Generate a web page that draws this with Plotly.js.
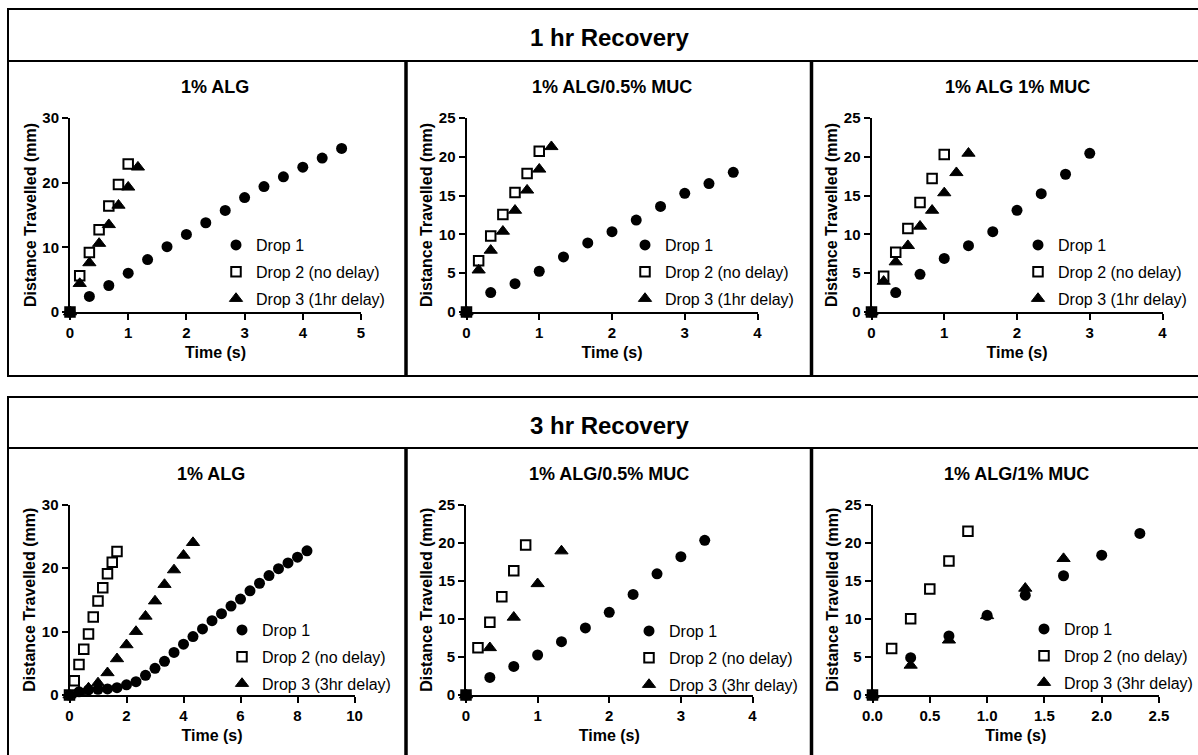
<!DOCTYPE html>
<html>
<head>
<meta charset="utf-8">
<script src="https://cdn.plot.ly/plotly-3.0.1.min.js"></script>
<style>html,body{margin:0;padding:0;background:#fff;}#chart{width:1198px;height:755px;}</style>
</head>
<body>
<div id="chart"></div>
<script>
// ---------- DATA ----------
const blockTitles = ["1 hr Recovery", "3 hr Recovery"];
const panelTitles = ["1% ALG", "1% ALG/0.5% MUC", "1% ALG 1% MUC", "1% ALG", "1% ALG/0.5% MUC", "1% ALG/1% MUC"];
const seriesNames1h = ["Drop 1", "Drop 2 (no delay)", "Drop 3 (1hr delay)"];
const seriesNames3h = ["Drop 1", "Drop 2 (no delay)", "Drop 3 (3hr delay)"];
const xTitle = "Time (s)";
const yTitle = "Distance Travelled (mm)";

// 1 hr recovery, 1% ALG
const h1Alg_d1_t = [0, 0.333, 0.667, 1, 1.333, 1.667, 2, 2.333, 2.667, 3, 3.333, 3.667, 4, 4.333, 4.667];
const h1Alg_d1_y = [0, 2.4, 4.1, 6.0, 8.1, 10.1, 12.0, 13.8, 15.7, 17.7, 19.4, 20.9, 22.4, 23.8, 25.3];
const h1Alg_d2_t = [0, 0.167, 0.333, 0.5, 0.667, 0.833, 1];
const h1Alg_d2_y = [0, 5.6, 9.2, 12.7, 16.4, 19.7, 22.9];
const h1Alg_d3_t = [0, 0.167, 0.333, 0.5, 0.667, 0.833, 1, 1.167];
const h1Alg_d3_y = [0, 4.4, 7.6, 10.6, 13.5, 16.5, 19.3, 22.4];

// 1 hr recovery, 1% ALG/0.5% MUC
const h1M05_d1_t = [0, 0.333, 0.667, 1, 1.333, 1.667, 2, 2.333, 2.667, 3, 3.333, 3.667];
const h1M05_d1_y = [0, 2.5, 3.65, 5.25, 7.1, 8.9, 10.35, 11.85, 13.6, 15.3, 16.55, 18.0];
const h1M05_d2_t = [0, 0.167, 0.333, 0.5, 0.667, 0.833, 1];
const h1M05_d2_y = [0, 6.6, 9.8, 12.55, 15.4, 17.85, 20.7];
const h1M05_d3_t = [0, 0.167, 0.333, 0.5, 0.667, 0.833, 1, 1.167];
const h1M05_d3_y = [0, 5.4, 7.95, 10.4, 13.1, 15.7, 18.4, 21.3];

// 1 hr recovery, 1% ALG 1% MUC
const h1M1_d1_t = [0, 0.333, 0.667, 1, 1.333, 1.667, 2, 2.333, 2.667, 3];
const h1M1_d1_y = [0, 2.5, 4.85, 6.9, 8.55, 10.35, 13.1, 15.25, 17.75, 20.45];
const h1M1_d2_t = [0, 0.167, 0.333, 0.5, 0.667, 0.833, 1];
const h1M1_d2_y = [0, 4.6, 7.7, 10.75, 14.1, 17.2, 20.3];
const h1M1_d3_t = [0, 0.167, 0.333, 0.5, 0.667, 0.833, 1, 1.167, 1.333];
const h1M1_d3_y = [0, 3.95, 6.45, 8.55, 11.05, 13.1, 15.35, 17.95, 20.45];

// 3 hr recovery, 1% ALG
const h3Alg_d1_t = [0, 0.333, 0.667, 1, 1.333, 1.667, 2, 2.333, 2.667, 3, 3.333, 3.667, 4, 4.333, 4.667, 5, 5.333, 5.667, 6, 6.333, 6.667, 7, 7.333, 7.667, 8, 8.333];
const h3Alg_d1_y = [0, 0.5, 0.8, 0.9, 0.95, 1.15, 1.6, 2.1, 3.1, 4.2, 5.3, 6.7, 8.0, 9.2, 10.4, 11.7, 12.8, 14.0, 15.1, 16.4, 17.6, 18.8, 19.9, 20.8, 21.7, 22.7];
const h3Alg_d2_t = [0, 0.167, 0.333, 0.5, 0.667, 0.833, 1, 1.167, 1.333, 1.5, 1.667];
const h3Alg_d2_y = [0, 2.25, 4.8, 7.2, 9.6, 12.3, 14.8, 16.9, 19.1, 20.9, 22.6];
const h3Alg_d3_t = [0, 0.333, 0.667, 1, 1.333, 1.667, 2, 2.333, 2.667, 3, 3.333, 3.667, 4, 4.333];
const h3Alg_d3_y = [0, 0.5, 1.1, 1.9, 3.5, 5.7, 7.9, 10.0, 12.4, 14.8, 17.4, 19.7, 22.0, 24.0];

// 3 hr recovery, 1% ALG/0.5% MUC
const h3M05_d1_t = [0, 0.333, 0.667, 1, 1.333, 1.667, 2, 2.333, 2.667, 3, 3.333];
const h3M05_d1_y = [0, 2.3, 3.75, 5.25, 7.0, 8.8, 10.85, 13.2, 15.9, 18.15, 20.3];
const h3M05_d2_t = [0, 0.167, 0.333, 0.5, 0.667, 0.833];
const h3M05_d2_y = [0, 6.2, 9.55, 12.9, 16.3, 19.7];
const h3M05_d3_t = [0, 0.333, 0.667, 1, 1.333];
const h3M05_d3_y = [0, 6.2, 10.2, 14.6, 18.9];

// 3 hr recovery, 1% ALG/1% MUC
const h3M1_d1_t = [0, 0.333, 0.667, 1, 1.333, 1.667, 2, 2.333];
const h3M1_d1_y = [0, 4.9, 7.75, 10.45, 13.1, 15.65, 18.35, 21.2];
const h3M1_d2_t = [0, 0.167, 0.333, 0.5, 0.667, 0.833];
const h3M1_d2_y = [0, 6.1, 10.0, 13.9, 17.6, 21.5];
const h3M1_d3_t = [0, 0.333, 0.667, 1, 1.333, 1.667];
const h3M1_d3_y = [0, 3.9, 7.2, 10.4, 14.0, 17.9];

// axis ranges / tick steps per panel
const xRanges = [[0, 5], [0, 4], [0, 4], [0, 10], [0, 4], [0, 2.5]];
const xSteps = [1, 1, 1, 2, 1, 0.5];
const yRanges = [[0, 30], [0, 25], [0, 25], [0, 30], [0, 25], [0, 25]];
const ySteps = [10, 5, 5, 10, 5, 5];

// ---------- LAYOUT / STYLE ----------
const W = 1198, H = 755;
const px = v => v / W;
const py = v => 1 - v / H;
const FONT = "Liberation Sans, Arial, sans-serif";
const HEADFONT = "Liberation Sans Narrow, Arial Narrow, Liberation Sans, sans-serif";

const panels = [
  {series: [[h1Alg_d1_t, h1Alg_d1_y], [h1Alg_d2_t, h1Alg_d2_y], [h1Alg_d3_t, h1Alg_d3_y]], names: seriesNames1h,
   xd: [70, 361], yd: [118, 312], leg: [236, 245], title: [215, 87]},
  {series: [[h1M05_d1_t, h1M05_d1_y], [h1M05_d2_t, h1M05_d2_y], [h1M05_d3_t, h1M05_d3_y]], names: seriesNames1h,
   xd: [466.5, 757.5], yd: [118, 312], leg: [645, 245], title: [612, 87]},
  {series: [[h1M1_d1_t, h1M1_d1_y], [h1M1_d2_t, h1M1_d2_y], [h1M1_d3_t, h1M1_d3_y]], names: seriesNames1h,
   xd: [871.5, 1162.5], yd: [118, 312], leg: [1038, 245], title: [1017, 87]},
  {series: [[h3Alg_d1_t, h3Alg_d1_y], [h3Alg_d2_t, h3Alg_d2_y], [h3Alg_d3_t, h3Alg_d3_y]], names: seriesNames3h,
   xd: [69.5, 354.5], yd: [504.5, 695], leg: [242, 630], title: [211, 474]},
  {series: [[h3M05_d1_t, h3M05_d1_y], [h3M05_d2_t, h3M05_d2_y], [h3M05_d3_t, h3M05_d3_y]], names: seriesNames3h,
   xd: [466, 752.5], yd: [504.5, 695], leg: [649, 631], title: [609, 474]},
  {series: [[h3M1_d1_t, h3M1_d1_y], [h3M1_d2_t, h3M1_d2_y], [h3M1_d3_t, h3M1_d3_y]], names: seriesNames3h,
   xd: [872.5, 1159], yd: [504.5, 695], leg: [1044, 629], title: [1016, 474]}
];

const markerStyles = [
  {symbol: "circle", size: 11, color: "#000", line: {width: 0}},
  {symbol: "square-open", size: 9.5, color: "#000", line: {width: 2, color: "#000"}},
  {symbol: "triangle-up", size: 11.5, color: "#000", line: {width: 1, color: "#000"}}
];

const traces = [];
const layout = {
  width: W, height: H,
  margin: {l: 0, r: 0, t: 0, b: 0},
  paper_bgcolor: "#fff", plot_bgcolor: "rgba(0,0,0,0)",
  showlegend: true,
  font: {family: FONT, color: "#000"},
  annotations: [], shapes: []
};

panels.forEach((p, i) => {
  const n = i + 1;
  const xa = n === 1 ? "x" : "x" + n;
  const ya = n === 1 ? "y" : "y" + n;
  const lg = n === 1 ? "legend" : "legend" + n;
  p.series.forEach((s, k) => {
    traces.push({
      type: "scatter", mode: "markers",
      x: s[0], y: s[1], name: p.names[k],
      xaxis: xa, yaxis: ya, legend: lg, legendgroup: "g" + n + "_" + k,
      cliponaxis: false, hoverinfo: "skip",
      marker: markerStyles[k]
    });
  });
  const axisCommon = {
    showgrid: false, zeroline: false, showline: true, linecolor: "#000", linewidth: 2,
    ticks: "outside", ticklen: 6, tickwidth: 2, tickcolor: "#000", tick0: 0,
    tickfont: {family: FONT, size: 15, weight: 700, color: "#000"},
    fixedrange: true, automargin: false
  };
  layout["xaxis" + (n === 1 ? "" : n)] = Object.assign({}, axisCommon, {
    domain: [px(p.xd[0]), px(p.xd[1])], anchor: ya, range: xRanges[i], dtick: xSteps[i],
    tickformat: xSteps[i] < 1 ? ".1f" : "d",
    title: {text: xTitle, font: {family: FONT, size: 16, weight: 700, color: "#000"}, standoff: 7}
  });
  layout["yaxis" + (n === 1 ? "" : n)] = Object.assign({}, axisCommon, {
    domain: [py(p.yd[1]), py(p.yd[0])], anchor: xa, range: yRanges[i], dtick: ySteps[i],
    title: {text: yTitle, font: {family: FONT, size: 16, weight: 700, color: "#000"}, standoff: 2}
  });
  layout[lg] = {
    x: px(p.leg[0] - 20), xanchor: "left",
    y: py(p.leg[1] - 17), yanchor: "top",
    bgcolor: "rgba(0,0,0,0)", borderwidth: 0,
    font: {family: FONT, size: 16, color: "#000"},
    traceorder: "grouped", tracegroupgap: 3, itemclick: false, itemdoubleclick: false
  };
  layout.annotations.push({
    xref: "paper", yref: "paper", x: px(p.title[0]), y: py(p.title[1]),
    xanchor: "center", yanchor: "middle", showarrow: false,
    text: panelTitles[i], font: {family: FONT, size: 18, weight: 700, color: "#000"}
  });
});

// block headers
[[blockTitles[0], 37], [blockTitles[1], 425]].forEach(b => {
  layout.annotations.push({
    xref: "paper", yref: "paper", x: px(609), y: py(b[1]),
    xanchor: "center", yanchor: "middle", showarrow: false,
    text: b[0], font: {family: HEADFONT, size: 24, weight: 700, color: "#000"}
  });
});

// frame lines
const ln = (x0, y0, x1, y1, w) => ({type: "line", xref: "paper", yref: "paper",
  x0: px(x0), y0: py(y0), x1: px(x1), y1: py(y1), line: {color: "#000", width: w}});
layout.shapes.push(
  {type: "rect", xref: "paper", yref: "paper", x0: px(8), y0: py(9), x1: px(1230), y1: py(376), line: {color: "#000", width: 2}},
  ln(8, 61, 1230, 61, 2),
  ln(406, 61, 406, 376, 3.5),
  ln(811.5, 61, 811.5, 376, 3.5),
  {type: "rect", xref: "paper", yref: "paper", x0: px(8), y0: py(397), x1: px(1230), y1: py(800), line: {color: "#000", width: 2}},
  ln(8, 448, 1230, 448, 2),
  ln(406, 448, 406, 800, 3.5),
  ln(811.5, 448, 811.5, 800, 3.5)
);

Plotly.newPlot("chart", traces, layout, {staticPlot: true, displayModeBar: false});
</script>
</body>
</html>
